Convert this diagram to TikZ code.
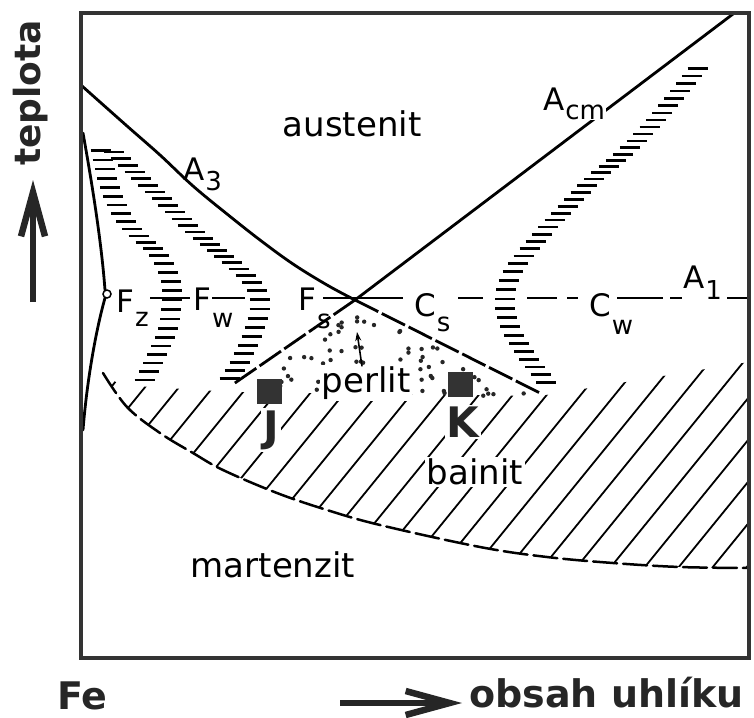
\documentclass[tikz,border=0pt]{standalone}
\usepackage{fontspec}
\setmainfont{DejaVu Sans}
\usetikzlibrary{arrows.meta,decorations.markings}
\newcommand\mylab[3]{{\fontsize{31}{31}\selectfont #1}\kern1pt\raisebox{-#3pt}{\fontsize{26}{26}\selectfont #2}}
\tikzset{
  frame/.style={line width=4pt, draw=black!80},
  curve/.style={line width=2.8pt, line cap=round},
  extline/.style={line width=2.8pt, dash pattern=on 26pt off 4pt},
  hatch/.style={line width=1.8pt},
  region/.style={inner sep=2pt, font=\fontsize{34}{34}\selectfont},
  sublab/.style={inner sep=1pt, anchor=base west},
  boldlab/.style={inner sep=2pt, font=\bfseries\fontsize{42}{42}\selectfont, text=black!85},
  outlab/.style={inner sep=0pt, font=\bfseries\fontsize{38}{38}\selectfont, text=black!85},
  outarrow/.style={line width=5.5pt, draw=black!85, -{Straight Barb[length=44pt,width=24pt,line width=6.5pt]}},
  sq/.style={fill=black!80, minimum size=25pt, inner sep=0pt},
  band/.style={decorate, decoration={markings,
     mark=between positions 0.01 and 0.99 step 9.5pt with {\pgftransformresetnontranslations
       \draw[line width=2.6pt] (-10pt,0pt) -- (10pt,0pt);}}}
}
\begin{document}
\begin{tikzpicture}[x=1pt,y=-1pt]
\useasboundingbox (0,0) rectangle (754,717);
% hatching (bainit)
\begin{scope}
  \clip plot[smooth, tension=0.6] coordinates {(103,373) (127,407) (160,433) (193,453) (223,470) (277,493) (327,510) (380,525) (480,547) (547,557) (613,563) (680,567) (749,568)}
     -- (749,362) -- (540,396) -- (232,392) -- (120,385) -- cycle;
  \foreach \k in {-3,...,22} \draw[hatch] ({6+34*\k},600) -- ++(300,-369);
\end{scope}
\draw[curve, line width=2.5pt, dash pattern=on 24pt off 6pt] plot[smooth, tension=0.6] coordinates {(103,373) (127,407) (160,433) (193,453) (223,470) (277,493) (327,510) (380,525) (480,547) (547,557) (613,563) (680,567) (749,568)};
% perlit dots
\pgfmathsetseed{11}
\foreach \i in {1,...,120} {
  \pgfmathsetmacro\px{280+250*rnd}
  \pgfmathsetmacro\py{303+95*rnd}
  \pgfmathtruncatemacro\ok{(\py > 307+0.691*(355-\px)) && (\py > 307+0.503*(\px-355)) ? 1 : 0}
  \ifnum\ok=1 \fill[black!85] (\px,\py) circle (2.2);\fi
}
% A1 line segments
\foreach \a/\b in {150/190, 212/245, 323/403, 458/483, 527/557, 567/578, 617/663, 670/710, 727/749}
  \draw[curve, line cap=butt, line width=2.6pt] (\a,298) -- (\b,298);
% left curve to F_z
\draw[curve] (83,133) .. controls (95,200) and (102,250) .. (105,290);
\draw[curve] (105,298) .. controls (96,330) and (87,380) .. (83,430);
\draw[line width=1.5pt, fill=white] (107,294) circle (4);
% A3
\draw[curve] plot[smooth, tension=0.6] coordinates {(82,86) (127,126) (160,155) (193,186) (227,214) (260,240) (293,264) (327,285) (355,300)};
\draw[extline] (355,300) -- (540,393);
% Acm
\draw[curve] (355,300) -- (733,14);
\draw[extline] (355,300) -- (232,385);
% bands
\path[band] plot[smooth, tension=0.6] coordinates {(100,148) (113,197) (133,230) (157,253) (170,277) (172,300) (168,330) (157,355) (143,383)};
\path[band] plot[smooth, tension=0.6] coordinates {(112,150) (160,197) (190,227) (220,253) (247,277) (260,300) (253,333) (237,367) (227,382)};
\path[band] plot[smooth, tension=0.6] coordinates {(700,65) (673,100) (647,130) (620,157) (593,180) (567,207) (543,233) (523,257) (510,277) (505,300) (508,320) (515,337) (530,360) (550,387)};
% frame
\draw[frame] (81,13) rectangle (749,658);
% labels
\node[region] (aus) at (352,124) {austenit};
\node[region, fill=white] (per) at (366,383) {perlit};
\node[region, fill=white] (bai) at (475,472) {bainit};
\node[region] (mar) at (273,565) {martenzit};
\node[sublab] (a3) at (182,180) {\mylab{A}{3}{10}};
\node[sublab, fill=white] (acm) at (542,110) {\mylab{A}{cm}{9}};
\node[sublab, fill=white] (a1) at (682,288) {\mylab{A}{1}{11}};
\node[sublab] (fz) at (115,312) {\mylab{F}{z}{14}};
\node[sublab] (fw) at (192,310) {\mylab{F}{w}{17}};
\node[sublab] (fs) at (297,310) {\mylab{F}{s}{18}};
\node[sublab] (cs) at (413,316) {\mylab{C}{s}{15}};
\node[sublab] (cw) at (588,316) {\mylab{C}{w}{18}};
% arrow to perlit point
\draw[line width=1.6pt, -{Stealth[length=9pt,width=6pt]}] (per.north) ++(-4,2) -- (357,332);
% squares
\node[sq] (sqJ) at (269,391) {};
\node[sq] (sqK) at (460,384) {};
\node[boldlab, fill=white] (J) at (271,430) {J};
\node[boldlab, fill=white] (K) at (463,422) {K};
% outer labels
\node[outlab, anchor=base west] (fe) at (57,709) {Fe};
\node[outlab, anchor=base west] (obs) at (469,707) {obsah uhlíku};
\node[outlab, anchor=base west, rotate=90, font=\bfseries\fontsize{36}{36}\selectfont] (tep) at (40,166) {teplota};
\draw[outarrow] (33,302) -- (33,180);
\draw[outarrow] (340,703) -- (462,703);
\end{tikzpicture}
\end{document}
